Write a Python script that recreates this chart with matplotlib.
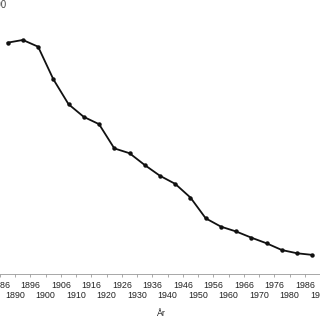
import numpy as np
import matplotlib
matplotlib.use("Agg")
import matplotlib.pyplot as plt

plt.rcParams["font.family"] = ["Liberation Sans", "DejaVu Sans"]

# Tick labels on the year axis (evenly spaced, alternating rows)
tick_years = ["1886", "1890", "1896", "1900", "1906", "1910", "1916", "1920",
              "1926", "1930", "1936", "1940", "1946", "1950", "1956", "1960",
              "1966", "1970", "1976", "1980", "1986", "1990"]

# Series values, one per period
values = [86.0, 87.0, 84.5, 72.4, 63.1, 58.4, 55.7, 46.7, 44.9, 40.5, 36.5,
          33.5, 28.4, 20.7, 17.6, 15.8, 13.5, 11.4, 8.9, 7.7, 7.1]

x_pos = np.arange(len(values)) + 0.5

fig = plt.figure(figsize=(3.2, 3.2), dpi=100)
ax = fig.add_axes([0, 46 / 320, 1, 269 / 320])

ax.plot(x_pos, values, color="#111111", lw=1.3, marker="o", ms=3.2,
        markerfacecolor="#111111", markeredgewidth=0)

ax.set_xlim(0.304, 20.557)
ax.set_ylim(0, 100)

ticks = np.arange(len(tick_years))
# top row on major ticks, bottom row on minor ticks
ax.set_xticks(ticks[::2])
ax.set_xticklabels(tick_years[::2], fontsize=6.4, color="#222222")
ax.set_xticks(ticks[1::2], minor=True)
ax.set_xticklabels(tick_years[1::2], minor=True, fontsize=6.4, color="#222222")
ax.tick_params(axis="x", which="both", direction="out", length=2.5, width=0.5,
               color="#888888")
ax.tick_params(axis="x", which="major", pad=2.8)
ax.tick_params(axis="x", which="minor", pad=10.0)
ax.set_yticks([])
for s in ["left", "right", "top"]:
    ax.spines[s].set_visible(False)
ax.spines["bottom"].set_color("#999999")
ax.spines["bottom"].set_linewidth(0.6)

ax.set_xlabel("År", fontsize=6.4, color="#222222", labelpad=6)

fig.text(6 / 320, 1 - 5.5 / 320, "100", ha="right", va="center",
         fontsize=7, color="#444444")

fig.savefig("out.png", dpi=100)
